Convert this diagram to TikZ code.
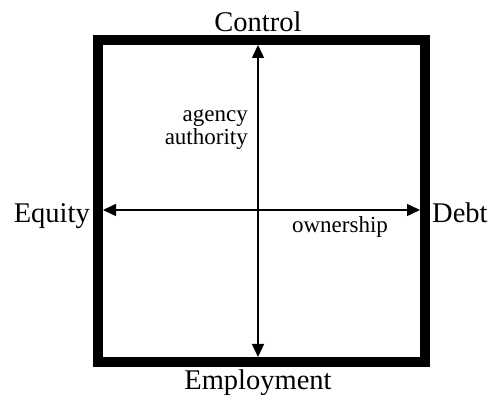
\documentclass[tikz,border=0pt]{standalone}
\usepackage{fontspec}
\setmainfont{Liberation Serif}
\usetikzlibrary{arrows.meta}
\begin{document}
\begin{tikzpicture}[x=1pt,y=-1pt,line cap=round,line join=round,>={Triangle[length=13pt,width=12pt]},
  big/.style={font=\fontsize{28.5}{32}\selectfont,inner sep=0pt},
  small/.style={font=\fontsize{23}{23}\selectfont,inner sep=0pt}]
\useasboundingbox (0,0) rectangle (488,395);
%%Khung vuong
\draw[line width=10pt,line cap=butt,line join=miter] (98,40) rectangle (425,362);
%%Dau truc
\coordinate (top) at (258,45);
\coordinate (bot) at (258,357);
\coordinate (lft) at (103,210);
\coordinate (rgt) at (420,210);
%%Nhan
\node[big,anchor=base] (control) at (258,32) {Control};
\node[big,anchor=base] (employment) at (258,390) {Employment};
\node[big,anchor=base east] (equity) at (90,223) {Equity};
\node[big,anchor=base west] (debt) at (432,223) {Debt};
\node[small,anchor=base east,align=right] (agency) at (248,145) {agency\\authority};
\node[small,anchor=base] (ownership) at (340,233) {ownership};
%%Hai truc
\draw[<->,line width=1.5pt] (top)--(bot);
\draw[<->,line width=1.5pt] (lft)--(rgt);
\end{tikzpicture}
\end{document}
